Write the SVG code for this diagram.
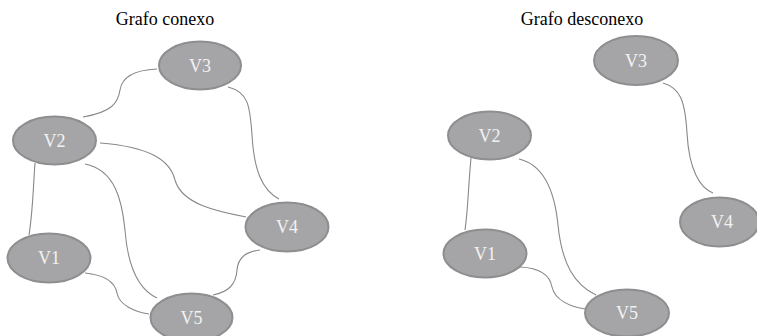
<svg xmlns="http://www.w3.org/2000/svg" width="757" height="336" viewBox="0 0 757 336">
  <style>
    .title { font-family: "Liberation Serif", "Times New Roman", serif; font-size: 18px; fill: #000; text-anchor: middle; }
    .node ellipse { fill: #a5a5a7; stroke: #8e8e90; stroke-width: 2; }
    .node text { font-family: "Liberation Serif", "Times New Roman", serif; font-size: 18px; fill: #f2f2f2; text-anchor: middle; dominant-baseline: central; }
    .edges path { fill: none; stroke: #888888; stroke-width: 1.1; }
  </style>
  <rect width="757" height="336" fill="#ffffff"/>

  <!-- Connected graph -->
  <text class="title" x="165" y="25">Grafo conexo</text>
  <g class="edges" id="edges-conexo">
    <path d="M83,117 C112,112 118,103 120,90 C122,77 134,70 157,69"/>
    <path d="M228,87 C248,92 250,105 252,135 C254,170 262,190 279,199"/>
    <path d="M100,143 C150,147 170,160 175,180 C182,205 220,212 246,217"/>
    <path d="M85,164 C115,170 122,200 125,230 C128,270 140,290 157,298"/>
    <path d="M35,163 C33,190 33,210 29,235"/>
    <path d="M85,273 C105,275 115,282 117,293 C119,305 135,312 149,314"/>
    <path d="M260,250 C245,252 238,258 237,270 C236,285 228,292 213,295"/>
  </g>
  <g class="node" id="c-v3"><ellipse cx="200" cy="65.5" rx="41" ry="24"/><text x="200" y="65.5">V3</text></g>
  <g class="node" id="c-v2"><ellipse cx="54.5" cy="140.5" rx="41.5" ry="24"/><text x="54.5" y="140.5">V2</text></g>
  <g class="node" id="c-v4"><ellipse cx="287" cy="227" rx="41.5" ry="24.5"/><text x="287" y="227">V4</text></g>
  <g class="node" id="c-v1"><ellipse cx="49" cy="258" rx="41.5" ry="24.5"/><text x="49" y="258">V1</text></g>
  <g class="node" id="c-v5"><ellipse cx="191.5" cy="317.5" rx="41" ry="24"/><text x="191.5" y="317.5">V5</text></g>

  <!-- Disconnected graph -->
  <text class="title" x="582" y="25">Grafo desconexo</text>
  <g class="edges" id="edges-desconexo">
    <path d="M663,83 C680,88 685,100 687,133 C689,170 700,188 713,193"/>
    <path d="M471,158 C468,190 468,210 465,230"/>
    <path d="M519,159 C545,165 555,195 558,225 C562,265 575,285 596,295"/>
    <path d="M520,267 C540,268 550,275 552,287 C555,300 570,307 586,309"/>
  </g>
  <g class="node" id="d-v3"><ellipse cx="636" cy="60.5" rx="42" ry="24.5"/><text x="636" y="60.5">V3</text></g>
  <g class="node" id="d-v2"><ellipse cx="489.5" cy="135.5" rx="41.5" ry="24"/><text x="489.5" y="135.5">V2</text></g>
  <g class="node" id="d-v4"><ellipse cx="719.5" cy="222" rx="39.5" ry="24.5"/><text x="722" y="222">V4</text></g>
  <g class="node" id="d-v1"><ellipse cx="485" cy="253.5" rx="41.5" ry="24"/><text x="485" y="253.5">V1</text></g>
  <g class="node" id="d-v5"><ellipse cx="627" cy="313" rx="42" ry="23.5"/><text x="627" y="313">V5</text></g>
</svg>
